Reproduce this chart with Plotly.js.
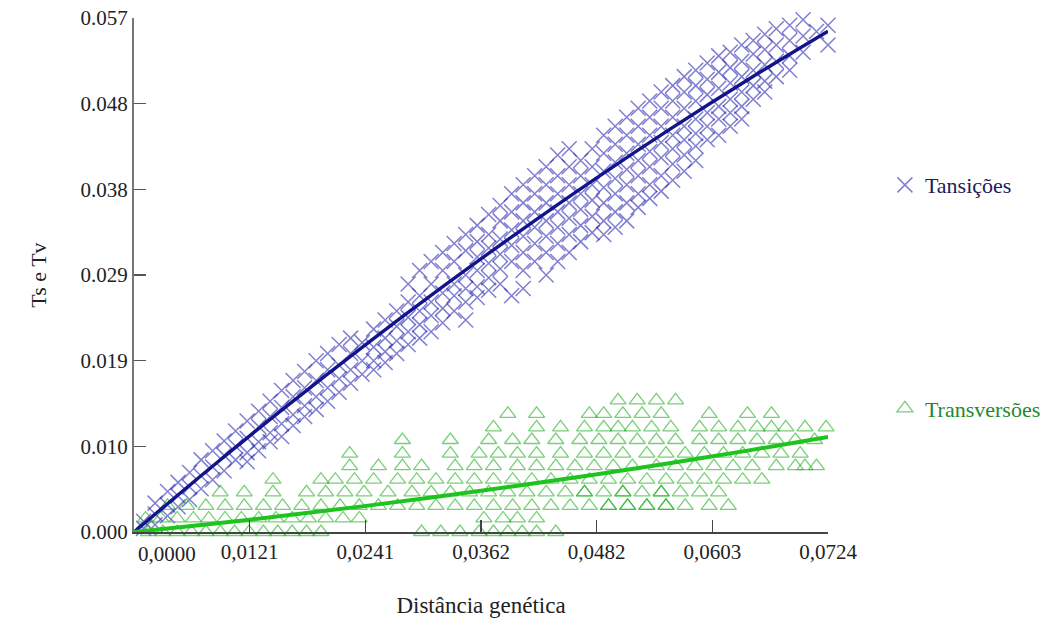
<!DOCTYPE html>
<html>
<head>
<meta charset="utf-8">
<script src="https://cdn.plot.ly/plotly-3.0.1.min.js"></script>
<style>html,body{margin:0;padding:0;background:#fff;}#chart{width:1042px;height:630px;}</style>
</head>
<body>
<div id="chart"></div>
<script>
// ---- Transitions (Ts) : columns of points (x = genetic distance, y values at that x)
const tsColX = [0.0010,0.0022,0.0035,0.0046,0.0058,0.0070,0.0082,0.0094,0.0106,0.0118,
  0.0130,0.0142,0.0154,0.0166,0.0178,0.0190,0.0202,0.0214,0.0226,0.0238,
  0.0250,0.0262,0.0274,0.0286,0.0298,0.0310,0.0322,0.0334,0.0346,0.0358,
  0.0370,0.0382,0.0394,0.0406,0.0418,0.0430,0.0442,0.0454,0.0466,0.0478,
  0.0490,0.0502,0.0514,0.0526,0.0538,0.0550,0.0562,0.0574,0.0586,0.0598,
  0.0610,0.0622,0.0634,0.0646,0.0658,0.0670,0.0684,0.0698,0.0712,0.0724];
const tsColY = [
  [0.0012,0.0004],[0.0032,0.0020,0.0008],[0.0045,0.0030,0.0018],[0.0055,0.0040,0.0028],
  [0.0066,0.0050,0.0036],[0.0080,0.0062,0.0048],[0.0090,0.0072,0.0058],[0.0101,0.0085,0.0068],
  [0.0112,0.0095,0.0080],[0.0123,0.0104,0.0088,0.0078],
  [0.0134,0.0117,0.0100,0.0090],[0.0145,0.0128,0.0110,0.0100],[0.0157,0.0138,0.0120,0.0106],
  [0.0168,0.0150,0.0130,0.0118],[0.0178,0.0160,0.0140,0.0128],[0.0190,0.0168,0.0150,0.0136],
  [0.0198,0.0180,0.0160,0.0145],[0.0208,0.0185,0.0170,0.0155],[0.0215,0.0198,0.0180,0.0165],
  [0.0210,0.0190,0.0175],
  [0.0225,0.0205,0.0190,0.0180],[0.0235,0.0215,0.0200,0.0188],[0.0245,0.0228,0.0212,0.0198],
  [0.0275,0.0255,0.0238,0.0222,0.0208],[0.0290,0.0262,0.0245,0.0230,0.0215],
  [0.0300,0.0275,0.0255,0.0240,0.0222],[0.0310,0.0290,0.0265,0.0248,0.0232],
  [0.0320,0.0300,0.0275,0.0262,0.0245],[0.0330,0.0312,0.0285,0.0270,0.0255,0.0235],
  [0.0340,0.0322,0.0305,0.0290,0.0272,0.0260],
  [0.0352,0.0330,0.0315,0.0298,0.0282,0.0268],[0.0362,0.0345,0.0325,0.0308,0.0292,0.0275],
  [0.0375,0.0355,0.0335,0.0318,0.0300,0.0262],[0.0385,0.0365,0.0345,0.0328,0.0310,0.0290,0.0270],
  [0.0395,0.0375,0.0355,0.0338,0.0320,0.0300],[0.0405,0.0385,0.0365,0.0345,0.0328,0.0310,0.0285],
  [0.0418,0.0395,0.0375,0.0355,0.0338,0.0320,0.0300],[0.0425,0.0405,0.0385,0.0365,0.0348,0.0330,0.0310],
  [0.0412,0.0395,0.0375,0.0358,0.0340,0.0322],[0.0425,0.0405,0.0385,0.0368,0.0350,0.0332],
  [0.0440,0.0420,0.0400,0.0382,0.0365,0.0345,0.0330],[0.0450,0.0430,0.0410,0.0392,0.0375,0.0355,0.0338],
  [0.0460,0.0440,0.0420,0.0402,0.0385,0.0365,0.0345],[0.0470,0.0450,0.0430,0.0412,0.0395,0.0375,0.0360],
  [0.0478,0.0460,0.0440,0.0422,0.0405,0.0385,0.0370],[0.0488,0.0470,0.0450,0.0432,0.0415,0.0395,0.0378],
  [0.0495,0.0478,0.0460,0.0440,0.0425,0.0408,0.0390],[0.0505,0.0488,0.0470,0.0450,0.0435,0.0418,0.0400],
  [0.0512,0.0495,0.0478,0.0458,0.0442,0.0428,0.0412],[0.0520,0.0502,0.0485,0.0465,0.0450,0.0435],
  [0.0528,0.0510,0.0492,0.0472,0.0458,0.0440],[0.0532,0.0515,0.0498,0.0480,0.0465,0.0450],
  [0.0540,0.0522,0.0505,0.0488,0.0472,0.0458],[0.0545,0.0530,0.0512,0.0495,0.0480],
  [0.0552,0.0535,0.0518,0.0500,0.0488],[0.0558,0.0540,0.0522,0.0505],
  [0.0562,0.0545,0.0528,0.0512],[0.0568,0.0550,0.0532],[0.0572,0.0555],[0.0562,0.0540]
];

// ---- Transversions (Tv) : rows of points (y level, x values on that row)
const tvRowY = [0, 0.0015, 0.0029, 0.0044, 0.0058, 0.0073, 0.0087, 0.0102, 0.0116, 0.0131, 0.0146];
const tvRowX = [
  [0.0015,0.0030,0.0045,0.0060,0.0075,0.0090,0.0105,0.0120,0.0135,0.0150,0.0165,0.0180,0.0195,
   0.0300,0.0320,0.0340,0.0360,0.0375,0.0390,0.0405,0.0420,0.0440],
  [0.0012,0.0028,0.0045,0.0062,0.0078,0.0095,0.0112,0.0130,0.0148,0.0165,0.0182,0.0200,0.0218,0.0235,
   0.0365,0.0385,0.0400,0.0420],
  [0.0035,0.0055,0.0075,0.0095,0.0115,0.0135,0.0155,0.0175,0.0195,0.0215,0.0235,0.0255,0.0275,0.0295,
   0.0315,0.0335,0.0355,0.0375,0.0395,0.0415,0.0435,0.0455,0.0475,0.0495,0.0515,0.0535,0.0555,0.0575,
   0.0600,0.0620,0.0495,0.0515,0.0535,0.0555],
  [0.0090,0.0115,0.0145,0.0180,0.0200,0.0220,0.0240,0.0265,0.0290,0.0310,0.0330,0.0350,0.0370,0.0390,
   0.0410,0.0430,0.0450,0.0470,0.0490,0.0510,0.0530,0.0550,0.0570,0.0590,0.0610,0.0470,0.0510,0.0550],
  [0.0145,0.0195,0.0210,0.0230,0.0250,0.0275,0.0295,0.0315,0.0335,0.0355,0.0375,0.0395,0.0415,0.0435,
   0.0455,0.0475,0.0495,0.0515,0.0535,0.0555,0.0575,0.0595,0.0615,0.0635,0.0655],
  [0.0225,0.0255,0.0280,0.0300,0.0335,0.0355,0.0375,0.0400,0.0420,0.0440,0.0460,0.0480,0.0500,0.0520,
   0.0545,0.0565,0.0585,0.0605,0.0625,0.0645,0.0670,0.0690,0.0700,0.0712],
  [0.0225,0.0280,0.0330,0.0360,0.0380,0.0400,0.0420,0.0445,0.0470,0.0490,0.0510,0.0535,0.0555,0.0575,
   0.0595,0.0615,0.0635,0.0655,0.0675,0.0695],
  [0.0280,0.0330,0.0370,0.0395,0.0415,0.0440,0.0465,0.0485,0.0505,0.0525,0.0545,0.0565,0.0590,0.0610,
   0.0630,0.0650,0.0670,0.0690,0.0710],
  [0.0375,0.0420,0.0445,0.0470,0.0490,0.0505,0.0520,0.0540,0.0560,0.0590,0.0610,0.0630,0.0650,0.0665,
   0.0680,0.0700,0.0722],
  [0.0390,0.0420,0.0475,0.0490,0.0510,0.0530,0.0550,0.0600,0.0640,0.0665],
  [0.0505,0.0525,0.0545,0.0565]
];

// ---- Fitted curves
const fitX   = [0, 0.008, 0.016, 0.024, 0.032, 0.040, 0.048, 0.056, 0.064, 0.0724];
const fitTsY = [0, 0.00713, 0.01402, 0.02065, 0.02704, 0.03318, 0.03908, 0.04473, 0.05013, 0.05553];
const fitTvY = [0, 0.000888, 0.001845, 0.00287, 0.003965, 0.005124, 0.006355, 0.007655, 0.009024, 0.010534];

// ---- Axis ticks
const xTickVals = [0, 0.0120667, 0.0241333, 0.0362, 0.0482667, 0.0603333, 0.0724];
const xTickText = ["0,0000","0,0121","0,0241","0,0362","0,0482","0,0603","0,0724"];
const yTickVals = [0, 0.0095, 0.019, 0.0285, 0.038, 0.0475, 0.057];
const yTickText = ["0.000","0.010","0.019","0.029","0.038","0.048","0.057"];

const names = ["Tansições", "Transversões"];

const tsX = [], tsY = [];
tsColX.forEach((x, i) => tsColY[i].forEach(y => { tsX.push(x); tsY.push(y); }));
const tvX = [], tvY = [];
tvRowY.forEach((y, i) => tvRowX[i].forEach(x => { tvX.push(x); tvY.push(y); }));

const serif = "Liberation Serif";

const traces = [
  { x: tsX, y: tsY, type: "scatter", mode: "markers", name: names[0], legend: "legend",
    cliponaxis: false,
    marker: { symbol: "x-thin-open", size: 15, color: "rgba(50,50,180,0.62)", line: { width: 1.5, color: "rgba(50,50,180,0.62)" } } },
  { x: tvX, y: tvY, type: "scatter", mode: "markers", name: names[1], legend: "legend2",
    cliponaxis: false,
    marker: { symbol: "triangle-up-open", size: 14, color: "rgba(30,175,30,0.6)", line: { width: 1.3 } } },
  { x: fitX, y: fitTsY, type: "scatter", mode: "lines", showlegend: false, hoverinfo: "skip",
    line: { color: "#14148a", width: 3.4, shape: "spline" } },
  { x: fitX, y: fitTvY, type: "scatter", mode: "lines", showlegend: false, hoverinfo: "skip",
    line: { color: "#1ec31e", width: 4, shape: "spline" } }
];

const layout = {
  width: 1042, height: 630,
  margin: { l: 134, r: 214, t: 18, b: 98, autoexpand: false },
  paper_bgcolor: "#ffffff", plot_bgcolor: "#ffffff",
  font: { family: serif, size: 21, color: "#222" },
  showlegend: true,
  xaxis: {
    range: [0, 0.0724], showgrid: false, zeroline: false,
    showline: true, linecolor: "#444", linewidth: 1.5,
    ticks: "inside", ticklen: 12, tickcolor: "#444", tickwidth: 1.2,
    tickmode: "array", tickvals: xTickVals.slice(1), ticktext: xTickText.slice(1),
    tickfont: { family: serif, size: 21, color: "#222" },
    title: { text: "Distância genética", font: { family: serif, size: 23, color: "#222" }, standoff: 34 }
  },
  yaxis: {
    range: [0, 0.057], showgrid: false, zeroline: false,
    showline: true, linecolor: "#777", linewidth: 2,
    ticks: "inside", ticklen: 12, tickcolor: "#555", tickwidth: 1.5,
    tickmode: "array", tickvals: yTickVals, ticktext: yTickText,
    tickfont: { family: serif, size: 21, color: "#222" },
    title: { text: "Ts e Tv", font: { family: serif, size: 22, color: "#222" }, standoff: 28 }
  },
  annotations: [
    { x: xTickVals[0], xref: "x", y: 0, yref: "paper", yanchor: "top", xanchor: "left",
      xshift: 2, yshift: -8, showarrow: false, text: xTickText[0],
      font: { family: serif, size: 21, color: "#222" } }
  ],
  legend: {
    x: 1.082, y: 0.675, xanchor: "left", yanchor: "middle",
    bgcolor: "rgba(0,0,0,0)", font: { family: serif, size: 22, color: "#1c1c5a" }
  },
  legend2: {
    x: 1.082, y: 0.24, xanchor: "left", yanchor: "middle",
    bgcolor: "rgba(0,0,0,0)", font: { family: serif, size: 22, color: "#1e8a2e" }
  }
};

Plotly.newPlot("chart", traces, layout, { displayModeBar: false, staticPlot: true });
</script>
</body>
</html>
